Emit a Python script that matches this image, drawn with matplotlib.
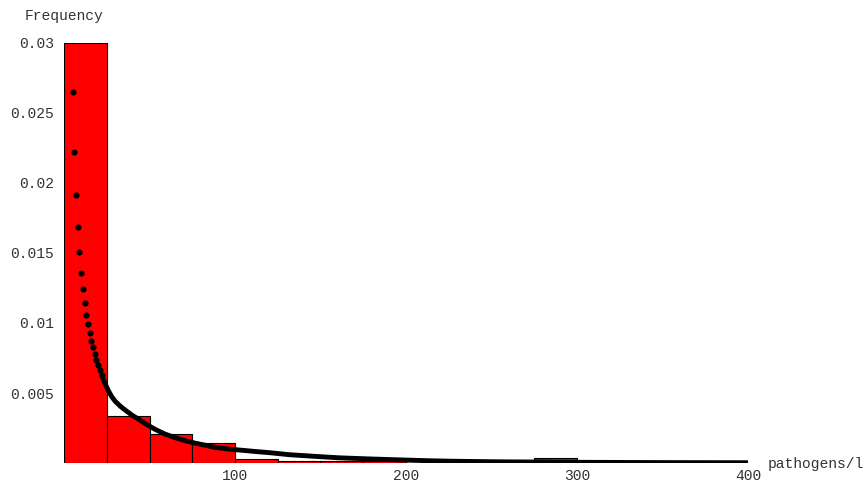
import matplotlib
matplotlib.use("Agg")
import matplotlib.pyplot as plt

# histogram bins (width 25) and heights
bin_left = [0, 25, 50, 75, 100, 125, 150, 175, 200, 225, 250, 275]
bin_height = [0.03, 0.00336, 0.00205, 0.00141, 0.00031, 0.00012,
              0.00012, 0.00012, 0.0, 0.00025, 0.0, 0.00033]

# density points, sparse part (drawn as dots)
dot_x = [5, 6, 7, 8, 9, 10, 11, 12, 13, 14, 15, 16, 17, 18, 19, 20, 21, 22]
dot_y = [0.02648, 0.02219, 0.01912, 0.01684, 0.01505, 0.01359, 0.01243,
         0.01143, 0.01057, 0.00991, 0.00926, 0.00869, 0.00826, 0.00779,
         0.00736, 0.00700, 0.00664, 0.00629]

# dense part where the dots merge into a thick band
curve_x = [22, 23, 24, 26, 28, 30, 33, 36, 40, 44, 48, 53, 59, 65, 71, 77,
           83, 88, 96, 104, 112, 120, 132, 150, 161, 179, 197, 214, 226,
           250, 275, 300, 350, 400]
curve_y = [0.00629, 0.00596, 0.00567, 0.00515, 0.00472, 0.00440, 0.00405,
           0.00376, 0.00340, 0.00310, 0.00278, 0.00242, 0.00207, 0.00181,
           0.00159, 0.00141, 0.00126, 0.00112, 0.00100, 0.00091, 0.00082,
           0.00074, 0.00059, 0.00045, 0.00037, 0.00029, 0.00022, 0.00016,
           0.00013, 0.00009, 0.00007, 0.00005, 0.00003, 0.00002]

xticks = [100, 200, 300, 400]
yticks = [0.005, 0.01, 0.015, 0.02, 0.025, 0.03]
ytick_labels = ["0.005", "0.01", "0.015", "0.02", "0.025", "0.03"]

plt.rcParams['font.family'] = ['Liberation Mono', 'DejaVu Sans Mono']

fig = plt.figure(figsize=(8.66, 4.86), dpi=100)
ax = fig.add_axes([64/866, 23/486, 684/866, 420/486])

ax.bar(bin_left, bin_height, width=25, align='edge', color='#ff0000',
       edgecolor='black', linewidth=0.8, zorder=1)
ax.plot(curve_x, curve_y, color='black', linewidth=3.5,
        solid_capstyle='butt', solid_joinstyle='round', zorder=2)
ax.scatter(dot_x, dot_y, s=20, color='black', linewidths=0, zorder=3)

ax.set_xlim(0, 400)
ax.set_ylim(0, 0.03)
ax.set_xticks(xticks)
ax.set_xticklabels([str(t) for t in xticks])
ax.set_yticks(yticks)
ax.set_yticklabels(ytick_labels)
ax.tick_params(length=0, labelsize=10.5, colors='#333333')
ax.tick_params(axis='x', pad=4)
ax.tick_params(axis='y', pad=7)
for s in ax.spines.values():
    s.set_visible(False)

fig.text(25/866, 1 - 16/486, "Frequency", fontsize=10.5, va='center',
         ha='left', color='#333333')
fig.text(768/866, 1 - 464/486, "pathogens/l", fontsize=10.5, va='center',
         ha='left', color='#333333')

fig.savefig("out.png", dpi=100)
